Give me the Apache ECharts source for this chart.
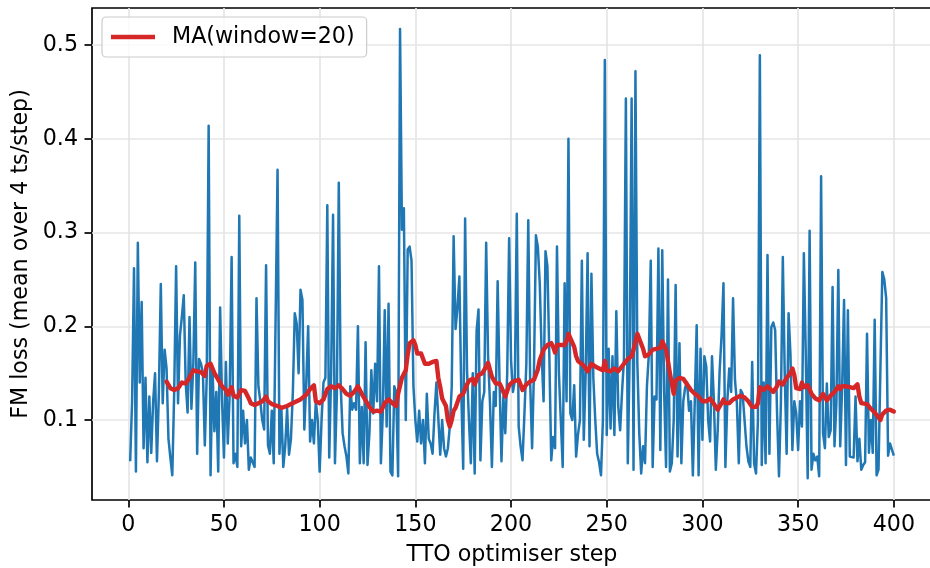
<!DOCTYPE html>
<html><head><meta charset="utf-8">
<script src="https://cdn.jsdelivr.net/npm/echarts@6/dist/echarts.min.js"></script>
<style>html,body{margin:0;padding:0;background:#fff}#c{width:930px;height:568px}</style>
</head><body><div id="c"></div>
<script>
// Raw FM loss per TTO optimiser step (steps 1..400)
const lossValues = [
0.056,0.12,0.262,0.045,0.289,0.14,0.226,0.07,0.145,0.055,
0.125,0.065,0.12,0.15,0.056,0.13,0.245,0.118,0.175,0.155,
0.08,0.06,0.041,0.13,0.264,0.118,0.19,0.21,0.233,0.14,
0.108,0.21,0.112,0.16,0.268,0.064,0.165,0.16,0.15,0.073,
0.146,0.414,0.041,0.157,0.088,0.13,0.045,0.22,0.121,0.06,
0.162,0.075,0.128,0.274,0.054,0.064,0.05,0.318,0.072,0.11,
0.075,0.1,0.047,0.06,0.062,0.05,0.23,0.136,0.12,0.1,
0.09,0.265,0.073,0.064,0.11,0.054,0.054,0.367,0.064,0.112,
0.05,0.072,0.112,0.063,0.08,0.13,0.214,0.203,0.15,0.239,
0.228,0.09,0.14,0.2,0.077,0.1,0.075,0.12,0.1,0.045,
0.1,0.14,0.145,0.329,0.06,0.15,0.319,0.054,0.128,0.353,
0.136,0.086,0.072,0.061,0.043,0.136,0.111,0.118,0.111,0.2,
0.054,0.114,0.054,0.183,0.052,0.086,0.153,0.107,0.16,0.12,
0.264,0.054,0.107,0.217,0.093,0.224,0.045,0.041,0.136,0.13,
0.04,0.517,0.303,0.326,0.1,0.282,0.285,0.27,0.136,0.1,
0.077,0.11,0.075,0.1,0.054,0.128,0.08,0.075,0.064,0.107,
0.14,0.102,0.063,0.1,0.07,0.061,0.07,0.093,0.135,0.296,
0.197,0.22,0.253,0.13,0.048,0.315,0.153,0.1,0.054,0.15,
0.043,0.195,0.218,0.057,0.12,0.13,0.289,0.168,0.118,0.05,
0.13,0.115,0.248,0.14,0.056,0.125,0.086,0.15,0.294,0.164,
0.13,0.142,0.32,0.093,0.072,0.057,0.107,0.16,0.313,0.14,
0.07,0.155,0.297,0.285,0.246,0.17,0.12,0.28,0.264,0.17,
0.057,0.082,0.07,0.285,0.15,0.1,0.05,0.246,0.12,0.4,
0.107,0.1,0.137,0.061,0.085,0.1,0.27,0.079,0.15,0.278,
0.072,0.256,0.145,0.1,0.064,0.055,0.041,0.1,0.484,0.084,
0.176,0.091,0.168,0.084,0.216,0.115,0.089,0.13,0.165,0.443,
0.054,0.17,0.443,0.047,0.472,0.16,0.086,0.043,0.072,0.054,
0.136,0.17,0.27,0.05,0.125,0.122,0.283,0.068,0.281,0.13,
0.05,0.25,0.045,0.054,0.1,0.244,0.061,0.182,0.054,0.12,
0.135,0.14,0.11,0.12,0.041,0.12,0.201,0.041,0.176,0.079,
0.168,0.157,0.1,0.077,0.168,0.12,0.047,0.09,0.153,0.19,
0.246,0.05,0.12,0.155,0.13,0.23,0.143,0.118,0.054,0.132,
0.128,0.1,0.072,0.056,0.05,0.162,0.054,0.043,0.1,0.489,
0.052,0.14,0.054,0.276,0.064,0.199,0.204,0.196,0.107,0.04,
0.118,0.274,0.15,0.064,0.214,0.17,0.068,0.12,0.107,0.068,
0.12,0.093,0.278,0.17,0.038,0.302,0.047,0.064,0.057,0.061,
0.04,0.36,0.086,0.07,0.139,0.082,0.089,0.242,0.072,0.118,
0.26,0.072,0.136,0.228,0.052,0.217,0.061,0.062,0.06,0.125,
0.056,0.08,0.047,0.052,0.055,0.192,0.065,0.1,0.065,0.207,
0.041,0.047,0.155,0.258,0.25,0.23,0.062,0.075,0.073,0.062
];
const firstStep = 1;

// Moving average (window=20) at these steps
const maSteps = [20,22,24,26,28,30,32,34,36,38,40,41,43,45,47,49,51,52,54,55,57,59,61,63,64,66,68,70,72,73,75,78,80,83,85,88,90,93,95,97,98,100,102,104,106,108,110,112,114,116,118,120,122,124,126,128,130,132,134,136,138,140,141,143,145,146,147,149,150,151,153,155,157,159,161,162,163,164,166,167,168,169,170,171,173,175,177,178,180,181,183,185,187,188,190,192,194,195,197,199,201,204,206,208,210,212,214,215,217,219,221,222,223,224,226,228,229,230,231,233,234,235,236,238,240,242,244,246,248,249,250,252,254,256,257,259,261,263,264,266,267,269,270,272,274,276,278,279,281,283,285,286,288,290,292,294,296,298,300,302,304,306,308,310,311,312,314,316,318,320,322,324,326,328,329,330,332,334,335,337,339,340,342,344,346,347,348,349,351,352,353,355,357,359,361,363,365,367,369,371,372,373,375,377,379,381,382,383,386,388,390,392,393,394,396,398,400];
const maValues = [0.141,0.134,0.132,0.134,0.14,0.139,0.145,0.153,0.152,0.151,0.147,0.158,0.16,0.15,0.143,0.136,0.132,0.127,0.135,0.126,0.124,0.132,0.131,0.123,0.118,0.116,0.118,0.12,0.125,0.12,0.117,0.115,0.113,0.115,0.117,0.12,0.122,0.127,0.133,0.137,0.12,0.118,0.122,0.133,0.136,0.134,0.137,0.133,0.128,0.126,0.13,0.136,0.128,0.121,0.114,0.109,0.11,0.109,0.118,0.122,0.118,0.115,0.128,0.145,0.153,0.17,0.182,0.185,0.18,0.171,0.171,0.16,0.16,0.162,0.163,0.145,0.135,0.123,0.115,0.1,0.093,0.1,0.11,0.113,0.125,0.128,0.138,0.142,0.144,0.138,0.148,0.15,0.157,0.161,0.146,0.139,0.139,0.135,0.125,0.137,0.141,0.143,0.132,0.138,0.141,0.143,0.154,0.164,0.175,0.18,0.182,0.178,0.172,0.18,0.18,0.18,0.184,0.192,0.19,0.178,0.168,0.163,0.165,0.158,0.152,0.16,0.157,0.155,0.153,0.163,0.153,0.152,0.155,0.152,0.15,0.16,0.165,0.168,0.175,0.192,0.19,0.176,0.168,0.17,0.175,0.176,0.177,0.184,0.175,0.15,0.128,0.142,0.145,0.144,0.138,0.132,0.128,0.125,0.12,0.12,0.123,0.117,0.111,0.118,0.122,0.118,0.118,0.122,0.124,0.126,0.124,0.12,0.114,0.114,0.118,0.135,0.132,0.136,0.137,0.13,0.136,0.141,0.138,0.145,0.15,0.155,0.148,0.134,0.133,0.14,0.135,0.137,0.128,0.123,0.121,0.128,0.121,0.126,0.13,0.136,0.133,0.136,0.136,0.135,0.134,0.138,0.125,0.118,0.117,0.112,0.108,0.103,0.1,0.106,0.11,0.111,0.109];

const xTicks = [0,50,100,150,200,250,300,350,400];
const yTicks = [0.1,0.2,0.3,0.4,0.5];

const xLabel = 'TTO optimiser step';
const yLabel = 'FM loss (mean over 4 ts/step)';
const maName = 'MA(window=20)';

const rawData = lossValues.map((v, i) => [firstStep + i, v]);
const maData = maSteps.map((s, i) => [s, maValues[i]]);

const FONT = 'DejaVu Sans';
const FS = 22.2;
const chart = echarts.init(document.getElementById('c'), null, {renderer: 'canvas'});
chart.setOption({
  animation: false,
  backgroundColor: '#ffffff',
  textStyle: {fontFamily: FONT},
  grid: {left: 92, top: 8, width: 840, height: 492, outerBoundsMode: 'none', containLabel: false,
         show: true, borderColor: '#000', borderWidth: 1.7, backgroundColor: 'transparent'},
  legend: {
    data: [maName], left: 102, top: 17, orient: 'horizontal',
    icon: 'rect', itemWidth: 44, itemHeight: 4.4,
    padding: [9, 12, 9, 9],
    backgroundColor: 'rgba(255,255,255,0.8)', borderColor: '#cccccc', borderWidth: 1.2, borderRadius: 4,
    textStyle: {fontFamily: FONT, fontSize: FS, color: '#000', padding: [0, 0, 0, 12]}
  },
  xAxis: {
    type: 'value', min: -18.95, max: 419.95,
    name: xLabel, nameLocation: 'middle', nameGap: 44,
    nameTextStyle: {fontFamily: FONT, fontSize: FS, color: '#000'},
    axisLine: {show: false, onZero: false},
    axisTick: {show: true, customValues: xTicks, length: 7.5, lineStyle: {color: '#000', width: 1.7}},
    axisLabel: {customValues: xTicks, margin: 14, fontFamily: FONT, fontSize: FS, color: '#000', formatter: v => String(v)},
    splitLine: {show: true, lineStyle: {color: '#e6e6e6', width: 1.7}}
  },
  yAxis: {
    type: 'value', min: 0.0147, max: 0.5395,
    name: yLabel, nameLocation: 'middle', nameGap: 60, nameRotate: 90,
    nameTextStyle: {fontFamily: FONT, fontSize: FS, color: '#000'},
    axisLine: {show: false, onZero: false},
    axisTick: {show: true, customValues: yTicks, length: 7.5, lineStyle: {color: '#000', width: 1.7}},
    axisLabel: {customValues: yTicks, margin: 14, fontFamily: FONT, fontSize: FS, color: '#000', formatter: v => v.toFixed(1)},
    splitLine: {show: true, lineStyle: {color: '#e6e6e6', width: 1.7}}
  },
  series: [
    {name: 'loss', type: 'line', data: rawData, showSymbol: false, symbol: 'none',
     lineStyle: {color: '#1f77b4', width: 2.5, join: 'round'}, itemStyle: {color: '#1f77b4'}, z: 2},
    {name: maName, type: 'line', data: maData, showSymbol: false, symbol: 'none',
     lineStyle: {color: '#d62728', width: 4.4, join: 'round', cap: 'round'}, itemStyle: {color: '#d62728'}, z: 3}
  ]
});
</script>
</body></html>
